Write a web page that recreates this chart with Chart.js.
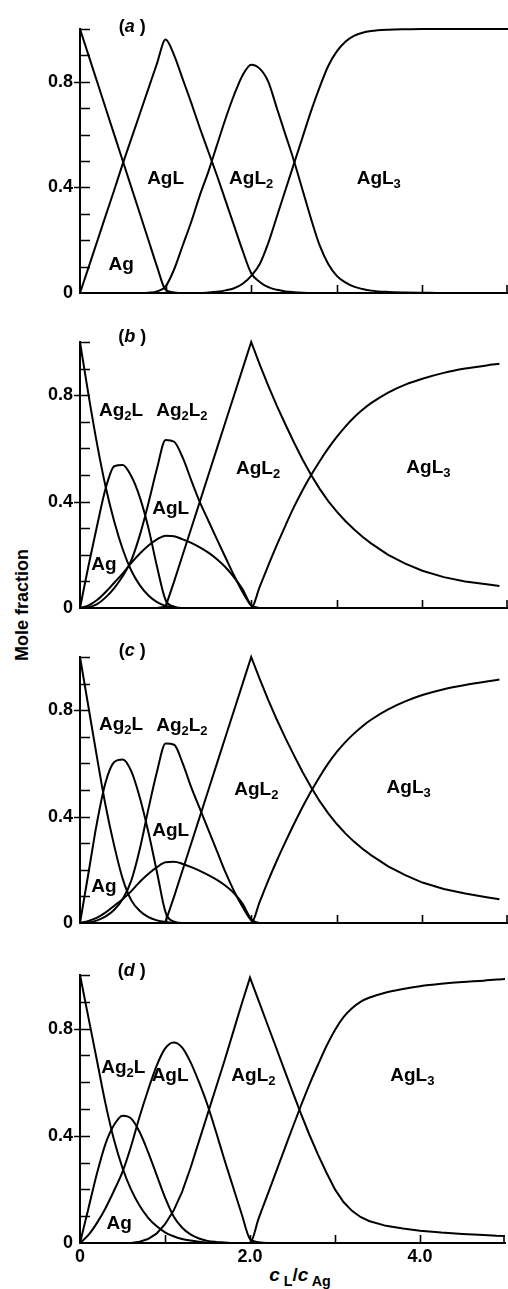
<!DOCTYPE html>
<html>
<head>
<meta charset="utf-8">
<title>Silver complex distribution</title>
<script src="https://cdn.jsdelivr.net/npm/chart.js@4.4.0/dist/chart.umd.min.js"></script>
<style>
  html, body { margin: 0; padding: 0; background: #fff; }
  #page { position: relative; width: 508px; height: 1289px; overflow: hidden; }
  #page canvas { position: absolute; left: 0; }
  .ytitle {
    position: absolute; left: 22px; top: 605px;
    transform: translate(-50%, -50%) rotate(-90deg);
    font: bold 18px "Liberation Sans", Arial, sans-serif; color: #000; white-space: nowrap;
  }
  .xtitle {
    position: absolute; left: 300px; top: 1275px;
    transform: translate(-50%, -50%);
    font: bold 19px "Liberation Sans", Arial, sans-serif; color: #000; white-space: nowrap;
  }
  .xtitle sub { font-size: 0.75em; vertical-align: -0.35em; line-height: 0; }
</style>
</head>
<body>
<div id="page">
  <div class="ytitle">Mole fraction</div>
  <div class="xtitle"><i>c</i><sub> L</sub>/<i>c</i><sub> Ag</sub></div>
</div>
<script>
// c_L / c_Ag sample positions shared by all four panels
const X = [0, 0.1, 0.2, 0.3, 0.4, 0.5, 0.6, 0.7, 0.8, 0.9,
           1.0, 1.1, 1.2, 1.3, 1.4, 1.5, 1.6, 1.7, 1.8, 1.9,
           2.0, 2.1, 2.2, 2.3, 2.4, 2.5, 2.6, 2.7, 2.8, 2.9,
           3.0, 3.1, 3.2, 3.3, 3.4, 3.6, 3.8, 4.0,
           4.25, 4.5, 4.75, 4.9, 5.0];

const Y_TICK_LABELS = ['0', '', '', '', '0.4', '', '', '', '0.8', '', ''];
const X_TICK_LABELS = ['0', '', '2.0', '', '4.0', ''];

// (a)
const aAg   = [1.0, 0.9, 0.8, 0.7, 0.6, 0.5, 0.4, 0.3, 0.2, 0.1,
               0.012, 0.002, 0, 0, 0, 0, 0, 0, 0, 0,
               0, 0, 0, 0, 0, 0, 0, 0, 0, 0,
               0, 0, 0, 0, 0, 0, 0, 0,
               0, 0, 0, 0, 0];
const aAgL  = [0, 0.097, 0.195, 0.293, 0.39, 0.49, 0.585, 0.68, 0.775, 0.87,
               0.96, 0.9, 0.81, 0.72, 0.625, 0.535, 0.445, 0.35, 0.255, 0.16,
               0.075, 0.042, 0.022, 0.012, 0.006, 0.003, 0.001, 0, 0, 0,
               0, 0, 0, 0, 0, 0, 0, 0,
               0, 0, 0, 0, 0];
const aAgL2 = [0, 0, 0, 0, 0, 0, 0, 0, 0.001, 0.006,
               0.025, 0.09, 0.18, 0.27, 0.37, 0.46, 0.56, 0.66, 0.75, 0.825,
               0.865, 0.85, 0.8, 0.7, 0.6, 0.5, 0.39, 0.28, 0.18, 0.11,
               0.065, 0.04, 0.024, 0.015, 0.009, 0.004, 0.002, 0.001,
               0, 0, 0, 0, 0];
const aAgL3 = [0, 0, 0, 0, 0, 0, 0, 0, 0, 0,
               0, 0, 0, 0, 0, 0.002, 0.005, 0.01, 0.018, 0.035,
               0.065, 0.11, 0.19, 0.29, 0.39, 0.49, 0.59, 0.69, 0.78, 0.86,
               0.915, 0.952, 0.974, 0.986, 0.992, 0.997, 0.999, 1.0,
               1.0, 1.0, 1.0, 1.0, 1.0];

// (b)
const bAg    = [1.0, 0.8, 0.615, 0.455, 0.325, 0.22, 0.14, 0.085, 0.047, 0.022,
                0.008, 0.002, 0, 0, 0, 0, 0, 0, 0, 0,
                0, 0, 0, 0, 0, 0, 0, 0, 0, 0,
                0, 0, 0, 0, 0, 0, 0, 0,
                0, 0, 0, 0, 0];
const bAg2L  = [0, 0.16, 0.31, 0.45, 0.533, 0.538, 0.495, 0.415, 0.3, 0.155,
                0.03, 0.005, 0, 0, 0, 0, 0, 0, 0, 0,
                0, 0, 0, 0, 0, 0, 0, 0, 0, 0,
                0, 0, 0, 0, 0, 0, 0, 0,
                0, 0, 0, 0, 0];
const bAg2L2 = [0, 0.003, 0.015, 0.04, 0.075, 0.12, 0.18, 0.275, 0.395, 0.525,
                0.632, 0.625, 0.565, 0.48, 0.398, 0.328, 0.258, 0.19, 0.122, 0.06,
                0.01, 0, 0, 0, 0, 0, 0, 0, 0, 0,
                0, 0, 0, 0, 0, 0, 0, 0,
                0, 0, 0, 0, 0];
const bAgL   = [0, 0.01, 0.03, 0.06, 0.095, 0.13, 0.17, 0.205, 0.235, 0.258,
                0.272, 0.27, 0.258, 0.245, 0.228, 0.208, 0.183, 0.153, 0.115, 0.07,
                0.01, 0, 0, 0, 0, 0, 0, 0, 0, 0,
                0, 0, 0, 0, 0, 0, 0, 0,
                0, 0, 0, 0, 0];
const bAgL2  = [0, 0, 0, 0, 0, 0, 0, 0, 0, 0,
                0.005, 0.1, 0.2, 0.3, 0.4, 0.5, 0.6, 0.7, 0.8, 0.9,
                1.0, 0.915, 0.835, 0.76, 0.69, 0.622, 0.558, 0.5, 0.448, 0.402,
                0.362, 0.327, 0.296, 0.268, 0.243, 0.2, 0.167, 0.14,
                0.116, 0.1, 0.089, 0.083, null];
const bAgL3  = [0, 0, 0, 0, 0, 0, 0, 0, 0, 0,
                0, 0, 0, 0, 0, 0, 0, 0, 0, 0,
                0, 0.08, 0.16, 0.237, 0.31, 0.38, 0.443, 0.5, 0.552, 0.6,
                0.643, 0.682, 0.716, 0.745, 0.77, 0.81, 0.84, 0.862,
                0.884, 0.9, 0.912, 0.918, null];

// (c)
const cAg    = [1.0, 0.81, 0.62, 0.44, 0.29, 0.165, 0.085, 0.045, 0.022, 0.01,
                0.004, 0.001, 0, 0, 0, 0, 0, 0, 0, 0,
                0, 0, 0, 0, 0, 0, 0, 0, 0, 0,
                0, 0, 0, 0, 0, 0, 0, 0,
                0, 0, 0, 0, 0];
const cAg2L  = [0, 0.19, 0.38, 0.53, 0.605, 0.615, 0.57, 0.47, 0.34, 0.19,
                0.04, 0.005, 0, 0, 0, 0, 0, 0, 0, 0,
                0, 0, 0, 0, 0, 0, 0, 0, 0, 0,
                0, 0, 0, 0, 0, 0, 0, 0,
                0, 0, 0, 0, 0];
const cAg2L2 = [0, 0.002, 0.01, 0.025, 0.05, 0.09, 0.16, 0.28, 0.43, 0.57,
                0.675, 0.67, 0.6, 0.51, 0.43, 0.35, 0.27, 0.19, 0.12, 0.06,
                0.01, 0, 0, 0, 0, 0, 0, 0, 0, 0,
                0, 0, 0, 0, 0, 0, 0, 0,
                0, 0, 0, 0, 0];
const cAgL   = [0, 0.008, 0.02, 0.04, 0.065, 0.09, 0.12, 0.155, 0.185, 0.21,
                0.228, 0.23, 0.222, 0.21, 0.196, 0.18, 0.162, 0.14, 0.112, 0.072,
                0.015, 0, 0, 0, 0, 0, 0, 0, 0, 0,
                0, 0, 0, 0, 0, 0, 0, 0,
                0, 0, 0, 0, 0];
const cAgL2  = [0, 0, 0, 0, 0, 0, 0, 0, 0, 0,
                0.005, 0.1, 0.2, 0.3, 0.4, 0.5, 0.6, 0.7, 0.8, 0.9,
                1.0, 0.917, 0.838, 0.764, 0.695, 0.63, 0.568, 0.51, 0.458, 0.412,
                0.372, 0.337, 0.306, 0.279, 0.255, 0.213, 0.18, 0.152,
                0.128, 0.111, 0.097, 0.089, null];
const cAgL3  = [0, 0, 0, 0, 0, 0, 0, 0, 0, 0,
                0, 0, 0, 0, 0, 0, 0, 0, 0, 0,
                0, 0.08, 0.16, 0.235, 0.305, 0.372, 0.436, 0.495, 0.55, 0.6,
                0.643, 0.68, 0.712, 0.74, 0.764, 0.803, 0.833, 0.857,
                0.879, 0.895, 0.908, 0.915, null];

// (d)
const dAg    = [1.0, 0.84, 0.68, 0.52, 0.385, 0.28, 0.2, 0.14, 0.095, 0.063,
                0.04, 0.025, 0.015, 0.009, 0.005, 0.002, 0, 0, 0, 0,
                0, 0, 0, 0, 0, 0, 0, 0, 0, 0,
                0, 0, 0, 0, 0, 0, 0, 0,
                0, 0, 0, 0, 0];
const dAg2L  = [0, 0.13, 0.26, 0.37, 0.44, 0.475, 0.465, 0.415, 0.34, 0.255,
                0.17, 0.1, 0.058, 0.032, 0.017, 0.008, 0.004, 0.002, 0, 0,
                0, 0, 0, 0, 0, 0, 0, 0, 0, 0,
                0, 0, 0, 0, 0, 0, 0, 0,
                0, 0, 0, 0, 0];
const dAgL   = [0, 0.03, 0.075, 0.13, 0.195, 0.265, 0.36, 0.47, 0.57, 0.66,
                0.725, 0.748, 0.73, 0.675, 0.6, 0.515, 0.415, 0.31, 0.21, 0.11,
                0.015, 0.003, 0, 0, 0, 0, 0, 0, 0, 0,
                0, 0, 0, 0, 0, 0, 0, 0,
                0, 0, 0, 0, 0];
const dAgL2  = [0, 0, 0, 0, 0, 0, 0, 0.005, 0.015, 0.035,
                0.07, 0.12, 0.19, 0.28, 0.38, 0.48, 0.58, 0.68, 0.785, 0.89,
                0.99, 0.905, 0.82, 0.735, 0.65, 0.565, 0.482, 0.403, 0.33, 0.262,
                0.2, 0.153, 0.12, 0.097, 0.082, 0.064, 0.054, 0.046,
                0.039, 0.034, 0.03, 0.027, 0.026];
const dAgL3  = [0, 0, 0, 0, 0, 0, 0, 0, 0, 0,
                0, 0, 0, 0, 0, 0, 0, 0, 0, 0,
                0, 0.09, 0.175, 0.26, 0.345, 0.43, 0.513, 0.592, 0.665, 0.735,
                0.795, 0.843, 0.876, 0.9, 0.915, 0.935, 0.948, 0.958,
                0.967, 0.974, 0.979, 0.983, 0.985];

// species labels: [formula, c_L/c_Ag, mole fraction]
const aLabels = [['Ag', 0.48, 0.106], ['AgL', 1.0, 0.43], ['AgL2', 2.0, 0.43], ['AgL3', 3.49, 0.43]];
const bLabels = [['Ag2L', 0.48, 0.74], ['Ag2L2', 1.19, 0.737], ['AgL', 1.06, 0.372],
                 ['Ag', 0.28, 0.158], ['AgL2', 2.08, 0.52], ['AgL3', 4.07, 0.526]];
const cLabels = [['Ag2L', 0.48, 0.743], ['Ag2L2', 1.19, 0.74], ['AgL', 1.06, 0.343],
                 ['Ag', 0.28, 0.132], ['AgL2', 2.06, 0.5], ['AgL3', 3.84, 0.506]];
const dLabels = [['Ag2L', 0.51, 0.65], ['AgL', 1.06, 0.623], ['Ag', 0.46, 0.07],
                 ['AgL2', 2.04, 0.623], ['AgL3', 3.91, 0.62]];

const FONT = '"Liberation Sans", Arial, sans-serif';

// digits in a formula are drawn as subscripts
function drawFormula(ctx, text, cx, cy) {
    const runs = text.match(/\d+|\D+/g);
    const big = 'bold 19px ' + FONT, small = 'bold 13px ' + FONT;
    let w = 0;
    runs.forEach(r => {
        ctx.font = /\d/.test(r) ? small : big;
        w += ctx.measureText(r).width;
    });
    let px = cx - w / 2;
    const base = cy + 4.5;
    runs.forEach(r => {
        const sub = /\d/.test(r);
        ctx.font = sub ? small : big;
        ctx.fillText(r, px, base + (sub ? 4 : 0));
        px += ctx.measureText(r).width;
    });
}

function drawTag(ctx, letter, cx, cy) {
    const runs = [['(', 'bold '], [letter, 'italic bold '], [' )', 'bold ']];
    let w = 0;
    runs.forEach(r => { ctx.font = r[1] + '18px ' + FONT; w += ctx.measureText(r[0]).width; });
    let px = cx - w / 2;
    runs.forEach(r => {
        ctx.font = r[1] + '18px ' + FONT;
        ctx.fillText(r[0], px, cy + 5.5);
        px += ctx.measureText(r[0]).width;
    });
}

const formulaLabels = {
    id: 'formulaLabels',
    afterDatasetsDraw(chart, args, opts) {
        const { ctx, scales } = chart;
        ctx.save();
        ctx.fillStyle = '#000';
        ctx.textAlign = 'left';
        ctx.textBaseline = 'alphabetic';
        opts.items.forEach(it => {
            drawFormula(ctx, it[0], scales.x.getPixelForValue(it[1]), scales.y.getPixelForValue(it[2]));
        });
        drawTag(ctx, opts.tag, scales.x.getPixelForValue(0.61), scales.y.getPixelForValue(opts.tagY));
        ctx.restore();
    }
};

// tick marks point into the plot; labelled y ticks also poke out a little
const innerTicks = {
    id: 'innerTicks',
    afterDraw(chart) {
        const { ctx, chartArea: area, scales: { x, y } } = chart;
        ctx.save();
        ctx.strokeStyle = '#000';
        ctx.lineWidth = 1.6;
        ctx.beginPath();
        y.ticks.forEach(t => {
            const lab = Y_TICK_LABELS[Math.round(t.value * 10)];
            if (t.value === 0) return;
            const py = Math.round(y.getPixelForValue(t.value)) + 0.5;
            ctx.moveTo(area.left - (lab ? 6 : 0), py);
            ctx.lineTo(area.left + 10, py);
        });
        x.ticks.forEach(t => {
            if (t.value === 0) return;
            const px = Math.min(Math.round(x.getPixelForValue(t.value)) + 0.5, area.right - 1);
            ctx.moveTo(px, area.bottom);
            ctx.lineTo(px, area.bottom - 8);
        });
        ctx.stroke();
        ctx.restore();
    }
};

const panels = [
    { tag: 'a', top: 0,   height: 318, padTop: 29, axisH: 25, tagY: 1.008, labels: aLabels,
      series: [['Ag', aAg], ['AgL', aAgL], ['AgL2', aAgL2], ['AgL3', aAgL3]], sharp: [] },
    { tag: 'b', top: 318, height: 315, padTop: 24, axisH: 25, tagY: 1.02, labels: bLabels,
      series: [['Ag', bAg], ['Ag2L', bAg2L], ['Ag2L2', bAg2L2], ['AgL', bAgL], ['AgL2', bAgL2], ['AgL3', bAgL3]], sharp: ['AgL2'] },
    { tag: 'c', top: 633, height: 317, padTop: 24, axisH: 27, tagY: 1.026, labels: cLabels,
      series: [['Ag', cAg], ['Ag2L', cAg2L], ['Ag2L2', cAg2L2], ['AgL', cAgL], ['AgL2', cAgL2], ['AgL3', cAgL3]], sharp: ['AgL2'] },
    { tag: 'd', top: 950, height: 339, padTop: 25, axisH: 46, tagY: 1.015, labels: dLabels,
      series: [['Ag', dAg], ['Ag2L', dAg2L], ['AgL', dAgL], ['AgL2', dAgL2], ['AgL3', dAgL3]], sharp: ['AgL2'], xLabels: true }
];

const page = document.getElementById('page');
const charts = [];

panels.forEach(p => {
    const canvas = document.createElement('canvas');
    canvas.width = 508;
    canvas.height = p.height;
    canvas.style.top = p.top + 'px';
    canvas.style.width = '508px';
    canvas.style.height = p.height + 'px';
    page.appendChild(canvas);

    const datasets = p.series.map(s => ({
        label: s[0],
        data: X.map((x, i) => ({ x: x, y: s[1][i] })),
        borderColor: '#000',
        borderWidth: 2,
        pointRadius: 0,
        fill: false,
        tension: 0,
        cubicInterpolationMode: p.sharp.includes(s[0]) ? 'default' : 'monotone',
        clip: 4
    }));

    charts.push(new Chart(canvas, {
        type: 'line',
        data: { datasets: datasets },
        options: {
            responsive: false,
            animation: false,
            events: [],
            layout: { padding: { top: p.padTop, right: 0, left: 0, bottom: 0 } },
            plugins: {
                legend: { display: false },
                tooltip: { enabled: false },
                formulaLabels: { items: p.labels, tag: p.tag, tagY: p.tagY }
            },
            scales: {
                x: {
                    type: 'linear', min: 0, max: 5,
                    grid: { display: false, drawTicks: false },
                    border: { display: true, color: '#000', width: 2 },
                    ticks: {
                        display: !!p.xLabels, stepSize: 1, autoSkip: false, maxRotation: 0,
                        padding: 3, color: '#000', font: { family: 'Liberation Sans', size: 18, weight: 'bold' },
                        callback: v => X_TICK_LABELS[Math.round(v)]
                    },
                    afterFit: s => { s.height = p.axisH; }
                },
                y: {
                    type: 'linear', min: 0, max: 1,
                    grid: { display: false, drawTicks: false },
                    border: { display: true, color: '#000', width: 2 },
                    ticks: {
                        stepSize: 0.1, autoSkip: false, padding: 7, color: '#000',
                        font: { family: 'Liberation Sans', size: 18, weight: 'bold' },
                        callback: v => Y_TICK_LABELS[Math.round(v * 10)]
                    },
                    afterFit: s => { s.width = 80; }
                }
            }
        },
        plugins: [formulaLabels, innerTicks]
    }));
});
</script>
</body>
</html>
